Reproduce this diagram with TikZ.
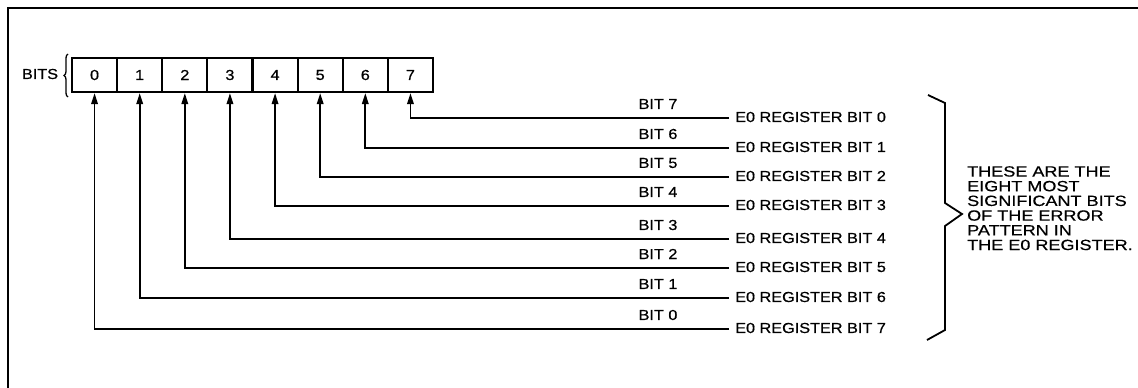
\documentclass[tikz,border=0pt]{standalone}
\usepackage{fontspec}
\setmainfont[FakeStretch=1.12,FakeBold=0.5]{Liberation Sans}
\newfontfamily\notefont[FakeStretch=1.22,FakeBold=0.5]{Liberation Sans}
\usetikzlibrary{arrows.meta,decorations.pathreplacing}
\begin{document}
\begin{tikzpicture}[x=1pt,y=-1pt,
  txt/.style={font=\fontsize{14.5}{16}\selectfont, inner sep=0pt},
  cell/.style={draw, line width=2.2pt, minimum width=45.125pt, minimum height=34pt, inner sep=0pt, font=\fontsize{14.5}{16}\selectfont},
  conn/.style={line width=1.8pt, -{Triangle[length=11pt,width=6.5pt]}},
  frame/.style={line width=2pt}]
\useasboundingbox (0,0) rectangle (1138,388);
\draw[frame] (8,388) -- (8,8) -- (1138,8);
% register cells
\foreach \i in {0,...,7}{
  \node[cell] (c\i) at ({72+45.125*(\i+0.5)},75) {\i};
}
% BITS label and brace
\node[txt] (bits) at (40,74) {BITS};
\draw[line width=1.3pt, decorate, decoration={brace, amplitude=4pt}] (68,97) -- (68,54);
% connectors
\foreach \i/\y/\r in {7/118/0, 6/148/1, 5/177/2, 4/206/3, 3/239/4, 2/268/5, 1/298/6, 0/329/7}{
  \node[txt, anchor=west] (r\i) at (735,\y-1) {E0 REGISTER BIT \r};
  \coordinate (e\i) at (729,\y);
  \node[txt] (b\i) at (658,\y-14) {BIT \i};
  \draw[conn] (e\i) -- (c\i.south |- e\i) -- (c\i.south);
}
% right brace
\draw[line width=1.8pt, line join=miter] (928,95) -- (945,103) -- (945,203) -- (962,214) -- (945,226) -- (945,330) -- (927,340);
\node[txt, anchor=north west, align=left, font=\notefont\fontsize{14.8}{14.7}\selectfont] (note) at (967,166)
  {THESE ARE THE\\EIGHT MOST\\SIGNIFICANT BITS\\OF THE ERROR\\PATTERN IN\\THE E0 REGISTER.};
\end{tikzpicture}
\end{document}
